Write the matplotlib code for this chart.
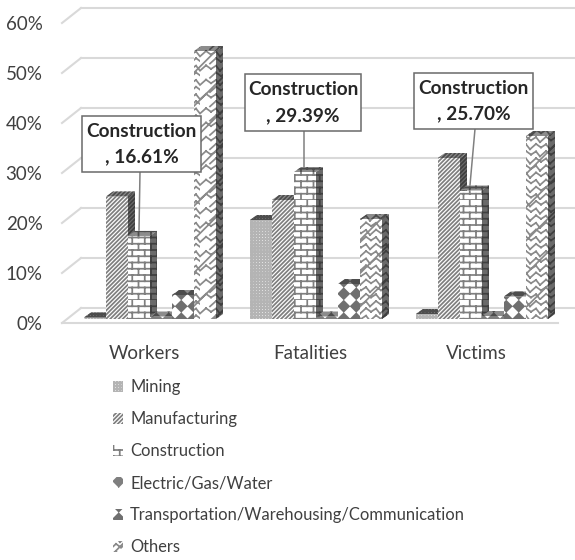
import numpy as np
import matplotlib
matplotlib.use("Agg")
import matplotlib.pyplot as plt
from matplotlib import hatch as mhatch
from matplotlib.path import Path
from matplotlib.patches import Rectangle

categories = ["Workers", "Fatalities", "Victims"]
series_names = ["Mining", "Manufacturing", "Construction", "Electric/Gas/Water",
                "Transportation/Warehousing/Communication", "Others"]
mining = [0.3, 19.8, 1.0]
manufacturing = [24.5, 23.8, 32.2]
construction = [16.61, 29.39, 25.70]
electric = [0.5, 0.5, 0.6]
transportation = [4.8, 7.0, 4.5]
others = [53.6, 20.0, 36.6]
y_ticks = [0, 10, 20, 30, 40, 50, 60]
callouts = ["Construction\n, 16.61%", "Construction\n, 29.39%", "Construction\n, 25.70%"]


class SegHatch(mhatch.HatchPatternBase):
    """Tile-based hatch built from 2-point segments (tile = 100 px at dpi 100)."""
    key = "?"

    def __init__(self, hatch, density):
        self.active = hatch.count(self.key) > 0
        self.segs = self.make() if self.active else []
        self.num_vertices = len(self.segs) * 2

    def set_vertices_and_codes(self, vertices, codes):
        for i, (a, b) in enumerate(self.segs):
            vertices[2 * i] = a
            vertices[2 * i + 1] = b
            codes[2 * i] = Path.MOVETO
            codes[2 * i + 1] = Path.LINETO


class Brick(SegHatch):
    key = "+"

    def make(self):
        rows, cols = 16, 8
        s = []
        for r in range(rows):
            y0, y1 = r / rows, (r + 1) / rows
            s.append(((0, y0), (1, y0)))
            for c in range(cols):
                x = (c + 0.5 * (r % 2)) / cols + 0.01
                s.append(((x, y0), (x, y1)))
        return s


class Shingle(SegHatch):
    key = "x"

    def make(self):
        rows, cols = 14, 5
        s = []
        h, w = 1 / rows, 1 / cols
        for r in range(rows):
            y = r * h
            for c in range(cols):
                x = c * w + (0.5 * w if r % 2 else 0)
                pts = [(x, y + 0.1 * h), (x + 0.3 * w, y + 0.85 * h), (x + 0.55 * w, y + 0.35 * h),
                       (x + 0.8 * w, y + 0.8 * h), (x + w, y + 0.1 * h)]
                for a, b in zip(pts[:-1], pts[1:]):
                    s.append((a, b))
        return s


class Grid(mhatch.HatchPatternBase):
    """Grid of filled diamonds; n per tile and size r as a fraction of the cell."""
    key, n, r = "?", 8, 0.4

    def __init__(self, hatch, density):
        self.active = hatch.count(self.key) > 0
        self.num_vertices = self.n * self.n * 5 if self.active else 0

    def set_vertices_and_codes(self, vertices, codes):
        k = 0
        d = 1 / self.n
        r = self.r * d
        for i in range(self.n):
            for j in range(self.n):
                cx, cy = (i + 0.5) * d, (j + 0.5) * d
                vertices[k:k + 5] = [(cx - r, cy), (cx, cy - r), (cx + r, cy), (cx, cy + r), (cx - r, cy)]
                codes[k:k + 5] = [Path.MOVETO, Path.LINETO, Path.LINETO, Path.LINETO, Path.CLOSEPOLY]
                k += 5


class Diamond(Grid):
    key, n, r = "O", 8, 0.42


class Dots(Grid):
    key, n, r = ".", 32, 0.42


mhatch._hatch_types = [mhatch.NorthEastHatch, Dots, Brick, Shingle, Diamond]

plt.rcParams["font.family"] = ["Lato", "DejaVu Sans"]
plt.rcParams["hatch.linewidth"] = 1.25

W, H = 575, 560
fig = plt.figure(figsize=(W / 100, H / 100), dpi=100, facecolor="white")
L, R, T, B = 62, 568, 8, 323
ax = fig.add_axes([L / W, 1 - B / H, (R - L) / W, (B - T) / H])
PX_X = 166.0           # px per category
PX_Y = 5.0             # px per percent
ax.set_xlim((L - 150) / PX_X, (R - 150) / PX_X)
ax.set_ylim(0, (B - T) / PX_Y)
for s in ax.spines.values():
    s.set_visible(False)
ax.patch.set_alpha(0)


def px(x, y):
    return (x - 150) / PX_X, (B - y) / PX_Y


grid_c = "#d9d9d9"
back_dx, back_dy = 19 / PX_X, 15 / PX_Y
for v in y_ticks:
    ax.plot([ax.get_xlim()[0], ax.get_xlim()[0] + back_dx], [v, v + back_dy], color=grid_c, lw=1.5, zorder=1, clip_on=False)
    ax.plot([ax.get_xlim()[0] + back_dx, (575 - 150) / PX_X], [v + back_dy, v + back_dy], color=grid_c, lw=1.5, zorder=1, clip_on=False)
ax.plot([ax.get_xlim()[0], (558 - 150) / PX_X], [0, 0], color=grid_c, lw=1.5, zorder=1, clip_on=False)

series = [mining, manufacturing, construction, electric, transportation, others]
hatches = [".", "////////", "+", "O", "O", "x"]
front_edges = ["#b4b4b4", "#7f7f7f", "#7f7f7f", "#7f7f7f", "#6f6f6f", "#8a8a8a"]
width = 22 / PX_X
base = 4 / PX_Y
dx, dy = 7 / PX_X, 5 / PX_Y
x = np.arange(len(categories))
handles = []
for si, (vals, name, h, ec) in enumerate(zip(series, series_names, hatches, front_edges)):
    xs = x + (si - 2.5) * width
    z = 3 + si
    for xc, v in zip(xs, vals):
        x0, x1 = xc - width / 2, xc + width / 2
        top = base + v
        ax.fill([x0, x0 + dx, x1 + dx, x1], [top, top + dy, top + dy, top],
                facecolor="#8c8c8c", edgecolor="#4d4d4d", hatch=h, linewidth=0, zorder=z, clip_on=False)
        ax.fill([x1, x1 + dx, x1 + dx, x1], [base, base + dy, top + dy, top],
                facecolor="#6a6a6a", edgecolor="#3f3f3f", hatch=h, linewidth=0, zorder=z, clip_on=False)
    bars = ax.bar(xs, vals, width=width, bottom=base, facecolor="white", edgecolor=ec,
                  hatch=h, linewidth=0, zorder=z + 0.5, label=name, clip_on=False)
    handles.append(bars)

ax.set_yticks(y_ticks, [f"{v}%" for v in y_ticks])
ax.set_xticks(x - 6 / PX_X, categories)
ax.tick_params(axis="both", length=0, labelsize=13.5, labelcolor="#404040")
ax.tick_params(axis="y", pad=14)
ax.tick_params(axis="x", pad=15.5)

boxes = [(82, 116, 201, 172), (245, 74, 361, 131), (414, 73, 533, 129)]
leaders = [(140, 172, 139, 230), (304, 131, 304, 167), (475, 129, 470, 185)]
for txt, (bl, bt, br, bb), (sx, sy, ex, ey) in zip(callouts, boxes, leaders):
    ax.plot(*zip(px(sx, sy), px(ex, ey)), color="#808080", lw=1.1, zorder=20, clip_on=False)
    x_a, y_a = px(bl, bb)
    x_b, y_b = px(br, bt)
    ax.add_patch(Rectangle((x_a, y_a), x_b - x_a, y_b - y_a, facecolor="white", edgecolor="#6a6a6a",
                           linewidth=1.1, zorder=21, clip_on=False))
    ax.text(*px((bl + br) / 2, (bt + bb) / 2), txt, ha="center", va="center", fontsize=13.7, fontweight="bold",
            color="#262626", linespacing=1.62, zorder=22)

leg = ax.legend(handles=handles, labels=series_names, loc="upper left", bbox_to_anchor=(113 / W, 1 - 379 / H),
                bbox_transform=fig.transFigure, frameon=False, ncol=1, fontsize=11.9, labelcolor="#404040",
                handlelength=0.62, handleheight=0.62, handletextpad=0.42, labelspacing=0.97, borderpad=0, borderaxespad=0)

fig.savefig("out.png", dpi=100, facecolor="white")
